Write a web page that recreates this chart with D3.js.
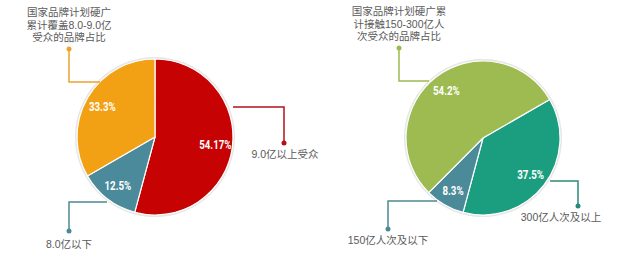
<!DOCTYPE html>
<html><head><meta charset="utf-8">
<script src="https://cdn.jsdelivr.net/npm/d3@7"></script>
<style>
html,body{margin:0;padding:0;background:#fff;}
svg{display:block;}
.t{font-family:"Liberation Sans","Noto Sans CJK SC",sans-serif;font-size:10.5px;fill:#5a5a5a;}
.p{font-family:"Roboto","DejaVu Sans",sans-serif;font-weight:bold;font-size:12.5px;fill:#fff;}
</style></head>
<body>
<svg id="c" width="640" height="256"></svg>
<script>
// Left pie: 国家品牌计划硬广累计覆盖8.0-9.0亿受众的品牌占比
const leftCategories = ["9.0亿以上受众", "8.0亿以下", "国家品牌计划硬广累计覆盖8.0-9.0亿受众的品牌占比"];
const leftValues = [54.17, 12.5, 33.3];
const leftLabels = ["54.17%", "12.5%", "33.3%"];
const leftColors = ["#c70202", "#4b8a9b", "#f3a114"];
// Right pie: 国家品牌计划硬广累计接触150-300亿人次受众的品牌占比
const rightCategories = ["300亿人次及以上", "150亿人次及以下", "国家品牌计划硬广累计接触150-300亿人次受众的品牌占比"];
const rightValues = [37.5, 8.3, 54.2];
const rightLabels = ["37.5%", "8.3%", "54.2%"];
const rightColors = ["#1b9e80", "#4b8a98", "#9dbb50"];

const svg = d3.select("#c");

function drawPie(cfg) {
  const g = svg.append("g").attr("transform", `translate(${cfg.cx},${cfg.cy})`);
  const pie = d3.pie().sort(null).value(d => d)
    .startAngle(cfg.start).endAngle(cfg.start + 2 * Math.PI);
  const arcs = pie(cfg.values);
  const arc = d3.arc().innerRadius(0).outerRadius(cfg.r);
  const labelArc = d3.arc().innerRadius(cfg.r * 0.78).outerRadius(cfg.r * 0.78);
  g.append("circle").attr("r", cfg.r + 1).attr("fill", "none")
    .attr("stroke", "#e6e6e6").attr("stroke-width", 2);
  g.selectAll("path.s").data(arcs).join("path")
    .attr("class", "s")
    .attr("d", arc)
    .attr("fill", (d, i) => cfg.colors[i])
    .attr("stroke", "#fff").attr("stroke-width", 1.2);
  g.selectAll("text.p").data(arcs).join("text")
    .attr("class", "p")
    .attr("transform", d => `translate(${labelArc.centroid(d)}) scale(0.78,1)`)
    .attr("text-anchor", "middle").attr("dy", "0.36em")
    .text((d, i) => cfg.labels[i]);
}

drawPie({cx: 155, cy: 137, r: 78, start: 0, values: leftValues, labels: leftLabels, colors: leftColors});
drawPie({cx: 483, cy: 138, r: 77, start: Math.PI / 3, values: rightValues, labels: rightLabels, colors: rightColors});

function callout(points, color) {
  svg.append("path")
    .attr("d", d3.line()(points))
    .attr("fill", "none").attr("stroke", color).attr("stroke-width", 1.5);
  const end = points[points.length - 1];
  svg.append("circle").attr("cx", end[0]).attr("cy", end[1]).attr("r", 2.5).attr("fill", color);
}

function multiText(lines, x, y, lh, anchor) {
  lines.forEach((l, i) => svg.append("text").attr("class", "t")
    .attr("text-anchor", anchor || "middle")
    .attr("x", x).attr("y", y + i * lh).text(l));
}

// Left callouts
callout([[100, 82], [69, 82], [69, 49]], "#eda32e");
multiText(["国家品牌计划硬广", "累计覆盖8.0-9.0亿", "受众的品牌占比"], 69, 16, 12.5);
callout([[233, 107], [284, 107], [284, 143]], "#b3101c");
multiText([leftCategories[0]], 285, 158, 12);
callout([[107, 202], [69, 202], [69, 231]], "#4b8a93");
multiText([leftCategories[1]], 69, 248, 12);

// Right callouts
callout([[429, 81], [399, 81], [399, 48]], "#9dbb50");
multiText(["国家品牌计划硬广累", "计接触150-300亿人", "次受众的品牌占比"], 399, 15, 12.5);
callout([[550, 181], [578, 181], [578, 206]], "#2a8a78");
multiText([rightCategories[0]], 561, 221, 12);
callout([[437, 201], [388, 201], [388, 229]], "#4b8a93");
multiText([rightCategories[1]], 388, 244, 12);
</script>
</body></html>
